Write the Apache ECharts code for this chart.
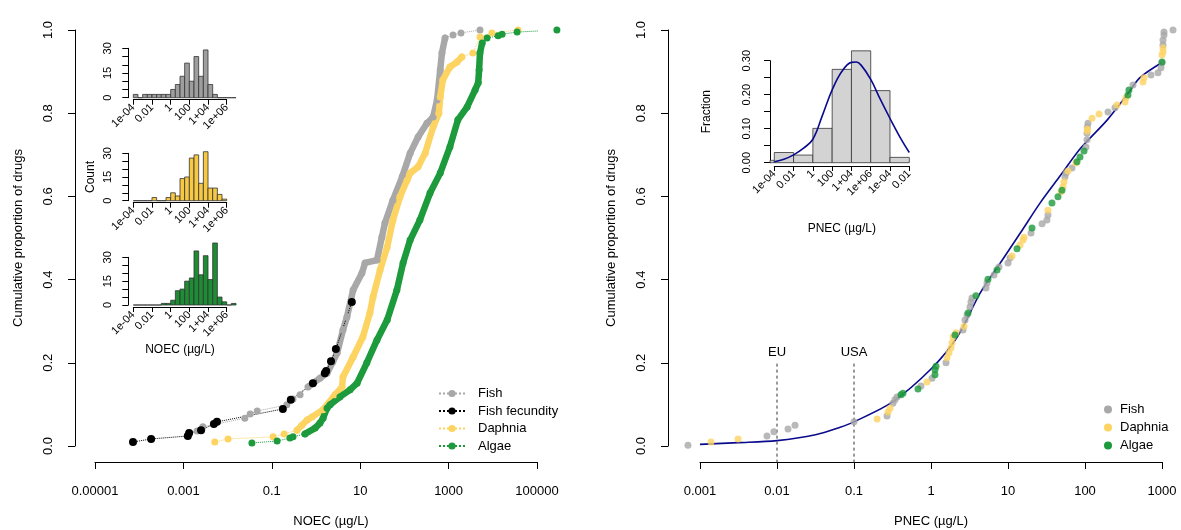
<!DOCTYPE html>
<html>
<head>
<meta charset="utf-8">
<script src="https://cdn.jsdelivr.net/npm/echarts@6/dist/echarts.min.js"></script>
<style>
html, body { margin: 0; padding: 0; background: #fff; }
#chart { width: 1181px; height: 530px; }
</style>
</head>
<body>
<div id="chart"></div>
<script>
// ---- left panel: log10 NOEC (ug/L) vs cumulative proportion ----
var fishLogNoec = [-2.69, -2.56, -1.61, -1.49, -1.33, -0.66, -0.52, -0.36, -0.18, 0.09, 0.25, 0.38, 0.48, 0.61, 0.70, 0.84, 1.04, 1.11, 1.38, 1.49, 1.56, 1.74, 1.95, 2.13, 2.31, 2.51, 2.65, 2.74, 2.81, 2.85, 2.92, 3.10, 3.28, 3.71];
var fishCum = [0.036, 0.046, 0.067, 0.077, 0.084, 0.099, 0.113, 0.123, 0.142, 0.163, 0.175, 0.202, 0.224, 0.279, 0.31, 0.375, 0.416, 0.44, 0.447, 0.502, 0.536, 0.591, 0.647, 0.704, 0.743, 0.776, 0.791, 0.832, 0.904, 0.945, 0.981, 0.988, 0.993, 1.0];

var fecLogNoec = [-4.14, -3.73, -2.90, -2.87, -2.60, -2.31, -2.24, -0.75, -0.57, -0.07, 0.20, 0.23, 0.34, 0.45, 0.81];
var fecCum = [0.0096, 0.017, 0.024, 0.031, 0.038, 0.053, 0.058, 0.089, 0.111, 0.151, 0.175, 0.18, 0.204, 0.233, 0.346];

var daphLogNoec = [-2.29, -1.99, -0.97, -0.72, -0.43, -0.32, -0.20, -0.09, 0.16, 0.43, 0.59, 0.61, 0.84, 1.06, 1.22, 1.29, 1.45, 1.61, 1.74, 1.90, 2.06, 2.13, 2.31, 2.47, 2.65, 2.78, 2.81, 2.87, 3.03, 3.19, 3.30, 3.55, 3.71, 3.98, 4.57];
var daphCum = [0.0096, 0.017, 0.022, 0.029, 0.038, 0.05, 0.0625, 0.07, 0.087, 0.123, 0.142, 0.166, 0.214, 0.262, 0.32, 0.358, 0.423, 0.478, 0.543, 0.599, 0.639, 0.656, 0.671, 0.704, 0.767, 0.80, 0.839, 0.88, 0.911, 0.923, 0.935, 0.945, 0.983, 0.993, 1.0];

var algaeLogNoec = [-1.45, -0.88, -0.59, -0.52, -0.25, -0.02, 0.09, 0.16, 0.25, 0.32, 0.54, 0.77, 0.93, 1.15, 1.38, 1.61, 1.83, 1.97, 2.13, 2.35, 2.58, 2.81, 3.03, 3.21, 3.42, 3.60, 3.67, 3.69, 3.71, 3.76, 3.87, 4.12, 4.21, 4.55, 5.45];
var algaeCum = [0.0072, 0.012, 0.019, 0.022, 0.029, 0.043, 0.055, 0.067, 0.091, 0.099, 0.118, 0.135, 0.151, 0.2, 0.255, 0.303, 0.375, 0.44, 0.495, 0.543, 0.608, 0.656, 0.719, 0.784, 0.815, 0.856, 0.873, 0.904, 0.945, 0.969, 0.981, 0.986, 0.99, 0.995, 1.0];

// index ranges where the points pile up into a solid band
var fishBand = [8, 30], daphBand = [4, 30], algaeBand = [4, 29];

var noecTicks = [-5, -3, -1, 1, 3, 5];
var noecTickLabels = ['0.00001', '0.001', '0.1', '10', '1000', '100000'];

// ---- left insets: histogram counts, half-decade bins starting at 1e-04 ----
var binStart = -4, binWidth = 0.5;
var fishCounts = [2, 0, 2, 2, 2, 2, 2, 2, 5, 8, 13, 21, 10, 25, 13, 29, 8, 2, 0, 0, 0, 0];
var daphCounts = [0, 0, 0, 0, 2, 0, 0, 2, 5, 3, 14, 15, 27, 29, 11, 31, 8, 8, 4, 1];
var algaeCounts = [0, 0, 0, 0, 0, 0, 1, 1, 3, 9, 10, 15, 17, 34, 19, 31, 16, 39, 5, 2, 0, 1];
var insetTicks = [-4, -2, 0, 2, 4, 6];
var insetTickLabels = ['1e-04', '0.01', '1', '100', '1+04', '1e+06'];

// ---- right panel: log10 PNEC (ug/L), cumulative proportion, by most sensitive taxon ----
var pnecFish = [[-3.156, 0.002], [-2.13, 0.024], [-2.04, 0.034], [-1.857, 0.041], [-1.766, 0.05], [-1.0, 0.058], [-0.571, 0.072], [-0.494, 0.103], [-0.468, 0.111], [-0.442, 0.118], [-0.13, 0.144], [0.013, 0.163], [0.195, 0.2], [0.416, 0.279], [0.442, 0.303], [0.468, 0.315], [0.506, 0.334], [0.519, 0.346], [0.532, 0.356], [0.714, 0.38], [0.727, 0.392], [0.818, 0.411], [0.883, 0.43], [1.0, 0.44], [1.026, 0.452], [1.299, 0.512], [1.442, 0.534], [1.506, 0.543], [1.519, 0.555], [1.74, 0.647], [1.753, 0.656], [1.831, 0.668], [2.013, 0.719], [2.026, 0.736], [2.026, 0.752], [2.03, 0.767], [2.039, 0.776], [2.299, 0.803], [2.39, 0.813], [2.623, 0.868], [2.857, 0.892], [2.948, 0.897], [2.987, 0.909], [3.0, 0.921], [3.013, 0.964], [3.013, 0.976], [3.026, 0.988], [3.026, 0.995], [3.143, 1.0]];
var pnecDaphnia = [[-2.857, 0.0096], [-2.506, 0.0168], [-0.70, 0.065], [-0.558, 0.082], [-0.532, 0.091], [-0.052, 0.154], [0.208, 0.212], [0.234, 0.224], [0.26, 0.236], [0.273, 0.248], [0.286, 0.262], [0.325, 0.272], [0.429, 0.288], [1.052, 0.457], [1.156, 0.483], [1.195, 0.495], [1.208, 0.502], [1.519, 0.567], [1.688, 0.611], [1.714, 0.623], [1.727, 0.635], [1.779, 0.661], [1.883, 0.68], [2.03, 0.757], [2.03, 0.762], [2.091, 0.788], [2.182, 0.798], [2.416, 0.82], [2.519, 0.827], [2.532, 0.837], [2.753, 0.875], [2.766, 0.885], [3.0, 0.94], [3.013, 0.947], [3.013, 0.957]];
var pnecAlgae = [[-0.39, 0.123], [-0.364, 0.127], [-0.169, 0.137], [0.052, 0.171], [0.052, 0.183], [0.065, 0.192], [0.312, 0.267], [0.481, 0.32], [0.584, 0.361], [0.74, 0.401], [0.857, 0.423], [1.117, 0.474], [1.312, 0.524], [1.571, 0.584], [1.649, 0.599], [1.701, 0.615], [1.896, 0.683], [1.935, 0.695], [1.987, 0.709], [2.558, 0.844], [2.571, 0.856], [3.0, 0.923]];

// fitted distribution
var fitLogPnec = [-3.0, -2.5, -2.0, -1.5, -1.18, -1.0, -0.5, 0.0, 0.34, 0.64, 0.9, 1.16, 1.42, 1.68, 1.94, 2.29, 2.55, 2.71, 3.0];
var fitCum = [0.004, 0.008, 0.013, 0.027, 0.045, 0.058, 0.106, 0.185, 0.262, 0.368, 0.44, 0.512, 0.585, 0.65, 0.715, 0.784, 0.845, 0.885, 0.922];

var pnecTickLabels = ['0.001', '0.01', '0.1', '1', '10', '100', '1000'];
var limitLogPnec = [-2, -1];
var limitNames = ['EU', 'USA'];
var limitTop = 0.2;

// ---- right inset: fraction per bin (x in tick units) ----
var fracEdges = [-0.22, 0, 1, 2, 3, 4, 5, 6, 7];
var fracValues = [0.007, 0.030, 0.0225, 0.101, 0.2745, 0.329, 0.212, 0.0157];
var fracFitX = [0, 0.5, 1, 1.5, 2, 2.5, 3, 3.5, 4, 4.25, 4.5, 5, 5.5, 6, 6.5, 7];
var fracFitY = [0.003, 0.01, 0.023, 0.042, 0.069, 0.14, 0.214, 0.268, 0.295, 0.296, 0.287, 0.245, 0.186, 0.13, 0.077, 0.03];
var fracTickLabels = ['1e-04', '0.01', '1', '100', '1+04', '1e+06', '1e-04', '0.01'];

var GRAY = '#a8a8a8', YELLOW = '#fdd361', GREEN = '#1c9a3c', BLUE = '#0a0a8c';
var FONT = '"Liberation Sans", Arial, sans-serif';

function zip(xs, ys) {
    return xs.map(function (x, i) { return [x, ys[i]]; });
}

function histData(counts) {
    return counts.map(function (c, i) {
        return [binStart + i * binWidth, binStart + (i + 1) * binWidth, c];
    });
}

function histRender(fill) {
    return function (params, api) {
        var a = api.coord([api.value(0), api.value(2)]);
        var b = api.coord([api.value(1), 0]);
        return {
            type: 'rect',
            shape: { x: a[0], y: a[1], width: b[0] - a[0], height: b[1] - a[1] },
            style: { fill: fill, stroke: '#333', lineWidth: 0.8 }
        };
    };
}

function pick(vals, labels) {
    return function (v) {
        for (var i = 0; i < vals.length; i++) {
            if (Math.abs(vals[i] - v) < 1e-6) return labels[i];
        }
        return '';
    };
}

var black = { color: '#000' };

function mainX(grid, opts) {
    var ax = {
        gridIndex: grid, type: 'value', position: 'bottom', offset: 16,
        axisLine: { onZero: false, lineStyle: black },
        axisTick: { length: 7, lineStyle: black },
        axisLabel: { color: '#000', fontSize: 13, margin: 23 },
        splitLine: { show: false },
        nameLocation: 'middle', nameGap: 53,
        nameTextStyle: { color: '#000', fontSize: 13 }
    };
    return Object.assign(ax, opts);
}

function mainY(grid, offset) {
    return {
        gridIndex: grid, type: 'value', min: 0, max: 1, interval: 0.2, offset: offset,
        axisLine: { onZero: false, lineStyle: black },
        axisTick: { length: 7, lineStyle: black },
        axisLabel: { color: '#000', fontSize: 13, rotate: 90, margin: 20,
            formatter: function (v) { return v.toFixed(1); } },
        splitLine: { show: false },
        name: 'Cumulative proportion of drugs', nameLocation: 'middle', nameRotate: 90, nameGap: 50,
        nameTextStyle: { color: '#000', fontSize: 13 }
    };
}

function insetX(grid, opts) {
    var ax = {
        gridIndex: grid, type: 'value', position: 'bottom', offset: 2,
        axisLine: { onZero: false, lineStyle: black },
        axisTick: { length: 5, lineStyle: black },
        splitLine: { show: false },
        nameLocation: 'middle',
        nameTextStyle: { color: '#000', fontSize: 12 }
    };
    return Object.assign(ax, opts);
}

function insetY(grid, opts) {
    var ax = {
        gridIndex: grid, type: 'value', offset: 5,
        axisLine: { onZero: false, lineStyle: black },
        axisTick: { length: 6, lineStyle: black },
        splitLine: { show: false },
        nameLocation: 'middle', nameRotate: 90,
        nameTextStyle: { color: '#000', fontSize: 12 }
    };
    return Object.assign(ax, opts);
}

var countAxis = {
    min: 0, max: 30, interval: 5,
    axisLabel: { color: '#000', fontSize: 11, rotate: 90, margin: 15,
        formatter: function (v) { return v % 15 === 0 ? String(v) : ''; } }
};

var insetXBase = {
    min: -4, max: 6, interval: 2,
    axisLabel: { color: '#000', fontSize: 11, rotate: 45, margin: 6,
        formatter: pick(insetTicks, insetTickLabels) }
};

function cdfSeries(name, xs, ys, color, size) {
    return {
        type: 'line', name: name, xAxisIndex: 0, yAxisIndex: 0,
        data: zip(xs, ys), symbol: 'circle', symbolSize: size,
        itemStyle: { color: color },
        lineStyle: { color: color, width: 1, type: 'dotted' },
        clip: false, z: 3
    };
}

function bandSeries(xs, ys, range, color) {
    return {
        type: 'line', name: 'band', xAxisIndex: 0, yAxisIndex: 0,
        data: zip(xs, ys).slice(range[0], range[1] + 1), symbol: 'none',
        lineStyle: { color: color, width: 6.5, cap: 'round', join: 'round' },
        silent: true, clip: false, z: 3
    };
}

function dotSeries(name, pts, color) {
    return {
        type: 'scatter', name: name, xAxisIndex: 1, yAxisIndex: 1,
        data: pts, symbol: 'circle', symbolSize: 7,
        itemStyle: { color: color }, clip: false, z: 3
    };
}

function limitSeries(i) {
    return {
        type: 'line', name: limitNames[i], xAxisIndex: 1, yAxisIndex: 1,
        data: [[limitLogPnec[i], -0.04], {
            value: [limitLogPnec[i], limitTop],
            label: { show: true, position: 'top', distance: 3, formatter: limitNames[i],
                color: '#000', fontSize: 13 }
        }],
        symbol: 'circle', symbolSize: 1, showSymbol: true,
        itemStyle: { color: 'rgba(0,0,0,0)' },
        clip: false, silent: true,
        lineStyle: { color: '#333', width: 1, type: [3, 3] }
    };
}

var grids = [
    { left: 95, top: 30, width: 442, height: 416 },
    { left: 700, top: 30, width: 462, height: 416 },
    { left: 133.3, top: 48.3, width: 93.4, height: 49.4 },
    { left: 133.3, top: 153.3, width: 93.4, height: 47.4 },
    { left: 133.3, top: 257.3, width: 93.4, height: 47.7 },
    { left: 774.3, top: 60.7, width: 135, height: 102 }
].map(function (g) { g.containLabel = false; g.outerBoundsMode = 'none'; return g; });

var chart = echarts.init(document.getElementById('chart'), null, { renderer: 'canvas' });

chart.setOption({
    animation: false,
    backgroundColor: '#fff',
    textStyle: { fontFamily: FONT },
    grid: grids,
    xAxis: [
        mainX(0, { min: -5, max: 5, name: 'NOEC (µg/L)',
            nameTextStyle: { color: '#000', fontSize: 13, padding: [0, 0, 0, 30] },
            axisTick: { length: 7, lineStyle: black, customValues: noecTicks },
            axisLabel: { color: '#000', fontSize: 13, margin: 23, customValues: noecTicks,
                formatter: pick(noecTicks, noecTickLabels) } }),
        mainX(1, { min: -3, max: 3, interval: 1, name: 'PNEC (µg/L)',
            axisLabel: { color: '#000', fontSize: 13, margin: 23,
                formatter: function (v) { return pnecTickLabels[Math.round(v) + 3]; } } }),
        insetX(2, insetXBase),
        insetX(3, insetXBase),
        insetX(4, Object.assign({ name: 'NOEC (µg/L)', nameGap: 37 }, insetXBase)),
        insetX(5, { min: 0, max: 7, interval: 1, offset: 3.3, name: 'PNEC (µg/L)', nameGap: 57,
            axisLabel: { color: '#000', fontSize: 11, rotate: 45, margin: 6,
                formatter: function (v) { return fracTickLabels[Math.round(v)]; } } })
    ],
    yAxis: [
        mainY(0, 20),
        mainY(1, 32),
        insetY(2, countAxis),
        insetY(3, Object.assign({ name: 'Count', nameGap: 32 }, countAxis)),
        insetY(4, countAxis),
        insetY(5, { min: 0, max: 0.3, interval: 0.05, offset: 4.3, name: 'Fraction', nameGap: 57,
            axisLabel: { color: '#000', fontSize: 11, rotate: 90, margin: 18,
                formatter: function (v) { return Math.round(v * 20) % 2 === 0 ? v.toFixed(2) : ''; } } })
    ],
    legend: [
        {
            data: ['Fish', 'Fish fecundity', 'Daphnia', 'Algae'],
            orient: 'vertical', left: 438, top: 387, padding: 0,
            itemWidth: 26, itemHeight: 9, itemGap: 4.5,
            textStyle: { color: '#000', fontSize: 13, padding: [0, 0, 0, 8] }
        },
        {
            data: [{ name: 'Fish', icon: 'circle' }, { name: 'Daphnia', icon: 'circle' }, { name: 'Algae', icon: 'circle' }],
            orient: 'vertical', left: 1104, top: 403, padding: 0,
            itemWidth: 8, itemHeight: 8, itemGap: 5,
            textStyle: { color: '#000', fontSize: 13, padding: [0, 0, 0, 3] }
        }
    ],
    series: [
        bandSeries(fishLogNoec, fishCum, fishBand, GRAY),
        cdfSeries('Fish', fishLogNoec, fishCum, GRAY, 7),
        cdfSeries('Fish fecundity', fecLogNoec, fecCum, '#000', 8),
        bandSeries(daphLogNoec, daphCum, daphBand, YELLOW),
        cdfSeries('Daphnia', daphLogNoec, daphCum, YELLOW, 7),
        bandSeries(algaeLogNoec, algaeCum, algaeBand, GREEN),
        cdfSeries('Algae', algaeLogNoec, algaeCum, GREEN, 7),

        {
            type: 'line', name: 'fit', xAxisIndex: 1, yAxisIndex: 1,
            data: zip(fitLogPnec, fitCum), symbol: 'none', smooth: 0.3,
            lineStyle: { color: BLUE, width: 1.6 }, clip: false, z: 2
        },
        limitSeries(0),
        limitSeries(1),
        dotSeries('Fish', pnecFish, GRAY),
        dotSeries('Daphnia', pnecDaphnia, YELLOW),
        dotSeries('Algae', pnecAlgae, GREEN),

        { type: 'custom', xAxisIndex: 2, yAxisIndex: 2, data: histData(fishCounts),
          renderItem: histRender('#9e9e9e'), encode: { x: [0, 1], y: 2 }, clip: false },
        { type: 'custom', xAxisIndex: 3, yAxisIndex: 3, data: histData(daphCounts),
          renderItem: histRender('#f7c844'), encode: { x: [0, 1], y: 2 }, clip: false },
        { type: 'custom', xAxisIndex: 4, yAxisIndex: 4, data: histData(algaeCounts),
          renderItem: histRender('#1d8c34'), encode: { x: [0, 1], y: 2 }, clip: false },
        { type: 'custom', xAxisIndex: 5, yAxisIndex: 5,
          data: fracValues.map(function (f, i) { return [fracEdges[i], fracEdges[i + 1], f]; }),
          renderItem: histRender('#d3d3d3'), encode: { x: [0, 1], y: 2 }, clip: false },
        {
            type: 'line', name: 'fracfit', xAxisIndex: 5, yAxisIndex: 5,
            data: zip(fracFitX, fracFitY), symbol: 'none', smooth: 0.4,
            lineStyle: { color: BLUE, width: 1.6 }, clip: false, z: 4
        }
    ]
});
</script>
</body>
</html>
